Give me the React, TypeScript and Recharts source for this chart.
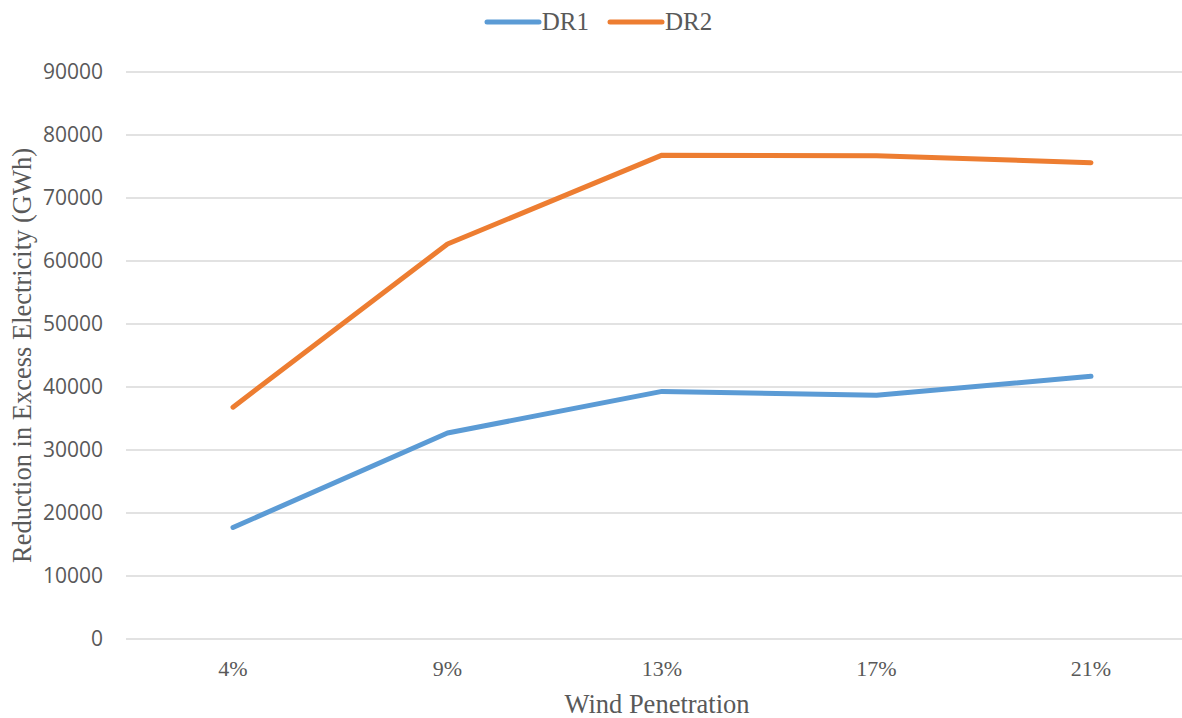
import React from "react"
import {
  LineChart,
  Line,
  XAxis,
  YAxis,
  CartesianGrid,
  Legend,
} from "recharts"

const penetration = ["4%", "9%", "13%", "17%", "21%"]
const dr1 = [17700, 32700, 39300, 38700, 41700]
const dr2 = [36800, 62700, 76800, 76700, 75600]
const yTicks = [0, 10000, 20000, 30000, 40000, 50000, 60000, 70000, 80000, 90000]

const data = penetration.map((p, i) => ({ name: p, DR1: dr1[i], DR2: dr2[i] }))

const BLUE = "#5B9BD5"
const ORANGE = "#ED7D31"
const TEXT = "#595959"
const SERIF = "'Liberation Serif', 'Times New Roman', serif"
const SANS = "'Open Sans', 'Noto Sans', sans-serif"

function LegendBox() {
  const items = [
    { label: "DR1", color: BLUE },
    { label: "DR2", color: ORANGE },
  ]
  return (
    <div style={{ display: "flex", justifyContent: "center", gap: 18, height: 30 }}>
      {items.map((it) => (
        <div key={it.label} style={{ display: "flex", alignItems: "center" }}>
          <svg width={58} height={10}>
            <line x1={3} y1={5} x2={55} y2={5} stroke={it.color} strokeWidth={5} strokeLinecap="round" />
          </svg>
          <span style={{ fontFamily: SERIF, fontSize: 25, color: TEXT, lineHeight: "30px" }}>{it.label}</span>
        </div>
      ))}
    </div>
  )
}

export default function App() {
  return (
    <div style={{ position: "fixed", top: 0, left: 0, width: 1182, height: 718, overflow: "hidden", background: "#fff" }}>
      <LineChart
        width={1200}
        height={718}
        data={data}
        margin={{ top: 42, right: 2, left: 0, bottom: 0 }}
      >
        <CartesianGrid horizontal vertical={false} stroke="#D9D9D9" strokeWidth={1.5} />
        <XAxis
          dataKey="name"
          height={79}
          padding={{ left: 107, right: 107 }}
          axisLine={false}
          tickLine={false}
          tickMargin={15}
          tick={{ fill: TEXT, fontFamily: SERIF, fontSize: 22 }}
          label={{
            content: ({ viewBox }: any) => (
              <text
                x={viewBox.x + viewBox.width / 2 - 5}
                y={viewBox.y + 74}
                textAnchor="middle"
                fill={TEXT}
                fontFamily={SERIF}
                fontSize={26.5}
              >
                Wind Penetration
              </text>
            ),
          }}
        />
        <YAxis
          width={126}
          domain={[0, 90000]}
          ticks={yTicks}
          interval={0}
          axisLine={false}
          tickLine={false}
          tickMargin={17}
          tick={{ fill: TEXT, fontFamily: SANS, fontSize: 21 }}
          label={{
            content: ({ viewBox }: any) => {
              const cx = 22
              const cy = viewBox.y + viewBox.height / 2
              return (
                <text
                  x={cx}
                  y={cy}
                  transform={`rotate(-90 ${cx} ${cy})`}
                  textAnchor="middle"
                  dominantBaseline="central"
                  fill={TEXT}
                  fontFamily={SERIF}
                  fontSize={26.5}
                >
                  Reduction in Excess Electricity (GWh)
                </text>
              )
            },
          }}
        />
        <Legend
          verticalAlign="top"
          content={() => <LegendBox />}
          wrapperStyle={{ top: 7, left: 0, width: 1196 }}
        />
        <Line
          type="linear"
          dataKey="DR1"
          stroke={BLUE}
          strokeWidth={5}
          strokeLinecap="round"
          strokeLinejoin="round"
          dot={false}
          activeDot={false}
          isAnimationActive={false}
        />
        <Line
          type="linear"
          dataKey="DR2"
          stroke={ORANGE}
          strokeWidth={5}
          strokeLinecap="round"
          strokeLinejoin="round"
          dot={false}
          activeDot={false}
          isAnimationActive={false}
        />
      </LineChart>
    </div>
  )
}
